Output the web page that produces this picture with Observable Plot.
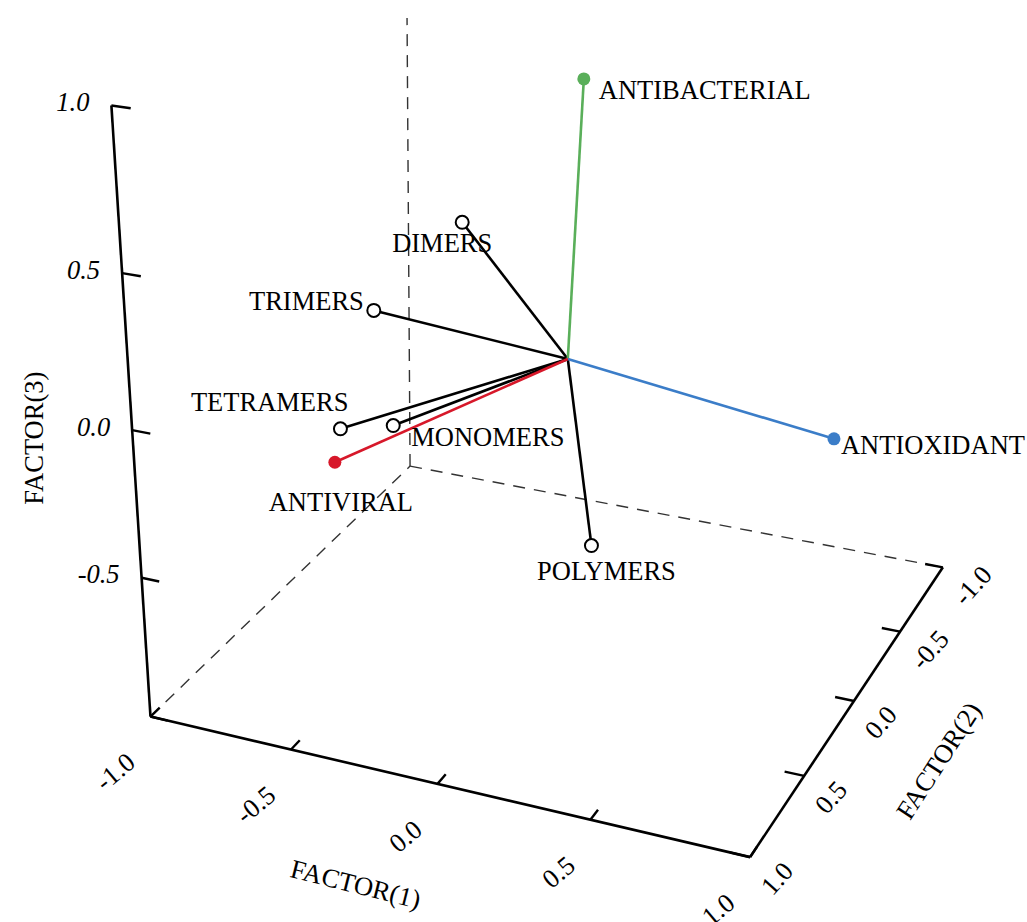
<!DOCTYPE html>
<html><head><meta charset="utf-8">
<script src="https://cdn.jsdelivr.net/npm/d3@7"></script>
<script src="https://cdn.jsdelivr.net/npm/@observablehq/plot@0.6"></script>
<style>body{margin:0;background:#fff}</style>
</head><body><div id="chart"></div>
<script>
// ---- data: 3-D factor loadings ----
const variables = ["ANTIBACTERIAL","ANTIOXIDANT","ANTIVIRAL","DIMERS","TRIMERS","TETRAMERS","MONOMERS","POLYMERS"];
const factor1   = [ 0.028,  0.932, -0.392, -0.360, -0.666, -0.383, -0.295,  0.100];
const factor2   = [ 0.000,  0.231,  0.864,  0.000,  0.000,  0.840,  0.660,  0.006];
const factor3   = [ 0.895,  0.000, -0.050,  0.394,  0.053,  0.050,  0.000, -0.629];
const activities = ["ANTIBACTERIAL","ANTIOXIDANT","ANTIVIRAL"];
const activityColors = ["#5aaf5a","#3b7dc8","#d7182a"];
const tickValues = [-1, -0.5, 0, 0.5, 1];
const tickLabels = ["-1.0","-0.5","0.0","0.5","1.0"];
const axisTitles = ["FACTOR(1)","FACTOR(2)","FACTOR(3)"];

// ---- view: perspective camera (3x4 homogeneous projection) ----
const camera = [
  [275.3729, -165.2064, -26.67673, 567.3093],
  [36.11716, 91.21983, -318.8872, 358.4813],
  [-0.04174918, -0.07921119, -0.06034675, 1]
];
function proj([X,Y,Z]){const d=camera.map(r=>r[0]*X+r[1]*Y+r[2]*Z+r[3]);return [d[0]/d[2],d[1]/d[2]];}
const seg=(a,b)=>{const p1=proj(a),p2=proj(b);return {x1:p1[0],y1:p1[1],x2:p2[0],y2:p2[1]};};

const data = variables.map((name,i)=>({name,f:[factor1[i],factor2[i],factor3[i]]}));
const colorOf = name => activityColors[activities.indexOf(name)];
const isAct = name => activities.includes(name);

const solidAxes=[seg([-1,1,-1],[-1,1,1]),seg([-1,1,-1],[1,1,-1]),seg([1,1,-1],[1,-1,-1])];
const dashedEdges=[seg([-1,1,-1],[-1,-1,-1]),seg([-1,-1,-1],[1,-1,-1]),seg([-1,-1,-1],[-1,-1,1])];
const tickLen=0.062;
const ticks=[
  ...tickValues.map(t=>seg([-1,1,t],[-1+tickLen,1,t])),
  ...tickValues.map(t=>seg([t,1,-1],[t,1-tickLen,-1])),
  ...tickValues.map(t=>seg([1,t,-1],[1-tickLen,t,-1]))
];
const ti = tickValues.map((v,i)=>({v,label:tickLabels[i]}));
const vec=data.map(d=>({...seg([0,0,0],d.f),name:d.name}));
const pts=data.map(d=>{const q=proj(d.f);return {name:d.name,x:q[0],y:q[1]};});
// label placement: [anchor, dx, dy] in pixels from the point
const place={ANTIBACTERIAL:["start",15,12],ANTIOXIDANT:["start",7,7],ANTIVIRAL:["middle",6,40],DIMERS:["middle",-20,21],TRIMERS:["end",-10,-9],TETRAMERS:["end",8,-26],MONOMERS:["start",18,12],POLYMERS:["middle",15,26]};
const lab=pts.map(d=>{const [a,dx,dy]=place[d.name];return {name:d.name,x:d.x+dx,y:d.y+dy,a};});

const font="Liberation Serif";
const txt={fontSize:26.5,fontFamily:font,fill:"#000"};
const L=(o)=>({x1:"x1",y1:"y1",x2:"x2",y2:"y2",...o});
const chart=Plot.plot({width:1027,height:922,marginTop:18,marginLeft:0,marginRight:0,marginBottom:0,
 x:{domain:[0,1027],range:[0,1027],axis:null},y:{domain:[0,922],range:[0,922],axis:null},
 marks:[
  Plot.link(dashedEdges,L({stroke:"#333",strokeWidth:1.4,strokeDasharray:"12,9",clip:true})),
  Plot.link(solidAxes,L({stroke:"#000",strokeWidth:2.6})),
  Plot.link(ticks,L({stroke:"#000",strokeWidth:2.4})),
  Plot.text(ti.filter(d=>d.v>-1),{x:d=>proj([-1,1,d.v])[0],y:d=>proj([-1,1,d.v])[1],text:"label",dx:-22,dy:-3,textAnchor:"end",fontStyle:"italic",...txt}),
  Plot.text(ti,{x:d=>proj([d.v,1,-1])[0],y:d=>proj([d.v,1,-1])[1],text:"label",dx:-19,dy:42,textAnchor:"end",rotate:-40,...txt}),
  Plot.text(ti,{x:d=>proj([1,d.v,-1])[0],y:d=>proj([1,d.v,-1])[1],text:"label",dx:16,dy:34,textAnchor:"start",rotate:-48,...txt}),
  Plot.text([axisTitles[0]],{x:()=>proj([-0.25,1,-1])[0],y:()=>proj([-0.25,1,-1])[1],text:d=>d,dx:-8,dy:118,rotate:14,...txt}),
  Plot.text([axisTitles[1]],{x:()=>proj([1,0,-1])[0],y:()=>proj([1,0,-1])[1],text:d=>d,dx:85,dy:60,rotate:-57,...txt}),
  Plot.text([axisTitles[2]],{x:()=>proj([-1,1,0])[0],y:()=>proj([-1,1,0])[1],text:d=>d,dx:-98,dy:8,rotate:-90,...txt}),
  Plot.link(vec.filter(d=>!isAct(d.name)),L({stroke:"#000",strokeWidth:2.6})),
  Plot.link(vec.filter(d=>isAct(d.name)),L({stroke:d=>colorOf(d.name),strokeWidth:2.6})),
  Plot.dot(pts.filter(d=>!isAct(d.name)),{x:"x",y:"y",r:6.5,fill:"white",stroke:"#000",strokeWidth:2}),
  Plot.dot(pts.filter(d=>isAct(d.name)),{x:"x",y:"y",r:6.5,fill:d=>colorOf(d.name)}),
  ...["start","middle","end"].map(a=>Plot.text(lab.filter(d=>d.a===a),{x:"x",y:"y",text:"name",textAnchor:a,...txt}))
 ]});
document.getElementById("chart").appendChild(chart);
</script></body></html>
